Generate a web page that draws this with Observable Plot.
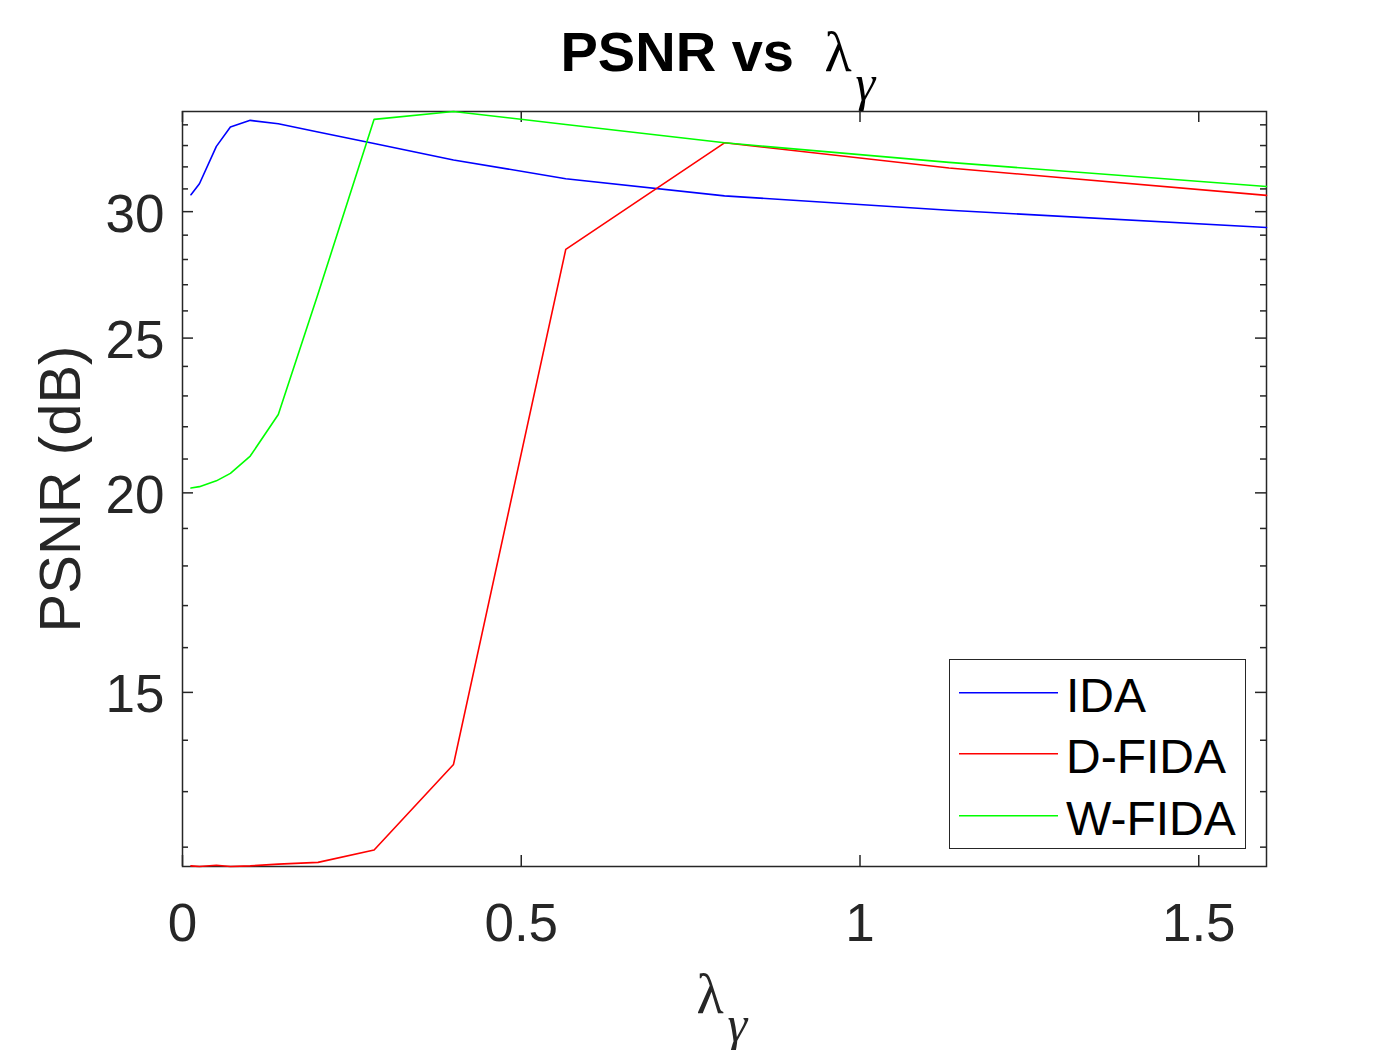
<!DOCTYPE html>
<html>
<head>
<meta charset="utf-8">
<script src="https://cdn.jsdelivr.net/npm/d3@7"></script>
<script src="https://cdn.jsdelivr.net/npm/@observablehq/plot@0.6"></script>
<style>
html, body { margin: 0; padding: 0; background: #fff; }
#wrap { position: relative; width: 1400px; height: 1050px; overflow: hidden; }
#wrap > svg { display: block; }
#legend { position: absolute; left: 949px; top: 659px; width: 295px; height: 188px;
  border: 1.5px solid #262626; background: #fff; font-family: "Liberation Sans", Arial, sans-serif; }
#legend .row { position: absolute; left: 0; width: 100%; height: 61.5px; }
#legend .sw { position: absolute; left: 8.5px; top: 20px; width: 100px; height: 20px; overflow: visible; }
#legend .lab { position: absolute; left: 116px; top: 3px; line-height: 61.5px; font-size: 48px; color: #000; white-space: nowrap; }
</style>
</head>
<body>
<div id="wrap"></div>
<script>
// ---- data ----
const lambda = [0.0125, 0.025, 0.05, 0.0707, 0.1, 0.1414, 0.2, 0.2828, 0.4, 0.5657, 0.8, 1.1314, 1.6];
const ida    = [30.74, 31.23, 32.96, 33.89, 34.22, 34.05, 33.65, 33.10, 32.32, 31.46, 30.69, 30.06, 29.32];
const dfida  = [11.68, 11.67, 11.69, 11.67, 11.68, 11.71, 11.74, 11.95, 13.52, 28.41, 33.13, 31.95, 30.71];
const wfida  = [20.14, 20.18, 20.35, 20.57, 21.09, 22.39, 26.64, 34.27, 34.66, 34.02, 33.13, 32.21, 31.11];
const seriesNames  = ["IDA", "D-FIDA", "W-FIDA"];
const seriesColors = ["#0000ff", "#ff0000", "#00ff00"];
const xTicks = [0, 0.5, 1, 1.5];
const yTicks = [15, 20, 25, 30];
const yMinorTicks = [12, 13, 14, 16, 17, 18, 19, 21, 22, 23, 24, 26, 27, 28, 29, 31, 32, 33, 34];
const xDomain = [0, 1.6];
const yDomain = [11.67, 34.66];

// ---- layout ----
const W = 1400, H = 1050, mL = 182, mR = 134, mT = 111, mB = 184;
const pw = W - mL - mR, ph = H - mT - mB;
const tickLen = 11, minorLen = 6;
const ink = "#262626";
const greek = "'Liberation Serif', 'DejaVu Serif', serif";

const seriesValues = [ida, dfida, wfida];
const rows = seriesNames.flatMap((name, i) =>
  lambda.map((x, j) => ({series: name, x, y: seriesValues[i][j]})));

const tickStyle = {stroke: ink, strokeWidth: 1.5};

const chart = Plot.plot({
  width: W, height: H,
  marginLeft: mL, marginRight: mR, marginTop: mT, marginBottom: mB,
  style: {fontFamily: "'Liberation Sans', Arial, sans-serif", background: "#fff", color: ink},
  x: {domain: xDomain, label: null},
  y: {type: "log", domain: yDomain, label: null},
  color: {domain: seriesNames, range: seriesColors},
  marks: [
    Plot.frame({stroke: ink, strokeWidth: 1.5}),
    Plot.ruleY(yTicks, {y: d => d, insetRight: pw - tickLen, ...tickStyle}),
    Plot.ruleY(yTicks, {y: d => d, insetLeft: pw - tickLen, ...tickStyle}),
    Plot.ruleY(yMinorTicks, {y: d => d, insetRight: pw - minorLen, ...tickStyle}),
    Plot.ruleY(yMinorTicks, {y: d => d, insetLeft: pw - minorLen, ...tickStyle}),
    Plot.ruleX(xTicks, {x: d => d, insetTop: ph - tickLen, ...tickStyle}),
    Plot.ruleX(xTicks, {x: d => d, insetBottom: ph - tickLen, ...tickStyle}),
    Plot.axisX({ticks: xTicks, tickSize: 0, tickPadding: 37, fontSize: 53, tickFormat: d => String(d), label: null, color: ink}),
    Plot.axisY({ticks: yTicks, tickSize: 0, tickPadding: 18, fontSize: 53, tickFormat: d => String(d), label: null, color: ink, dy: 3}),
    Plot.line(rows, {x: "x", y: "y", z: "series", stroke: "series", strokeWidth: 1.6}),
    // title
    Plot.text(["PSNR vs"], {text: d => d, frameAnchor: "top", textAnchor: "start", lineAnchor: "bottom",
      dx: -164, dy: -41, fontSize: 56, fontWeight: "bold", fill: "#000"}),
    Plot.text(["λ"], {text: d => d, frameAnchor: "top", textAnchor: "start", lineAnchor: "bottom",
      dx: 100, dy: -41, fontSize: 56, fontFamily: greek, fill: "#000"}),
    Plot.text(["γ"], {text: d => d, frameAnchor: "top", textAnchor: "start", lineAnchor: "bottom",
      dx: 131, dy: -12, fontSize: 50, fontStyle: "italic", fontFamily: greek, fill: "#000"}),
    // x label
    Plot.text(["λ"], {text: d => d, frameAnchor: "bottom", textAnchor: "start", lineAnchor: "bottom",
      dx: -28, dy: 146, fontSize: 56, fontFamily: greek, fill: ink}),
    Plot.text(["γ"], {text: d => d, frameAnchor: "bottom", textAnchor: "start", lineAnchor: "bottom",
      dx: 3, dy: 174, fontSize: 50, fontStyle: "italic", fontFamily: greek, fill: ink}),
    // y label
    Plot.text(["PSNR (dB)"], {text: d => d, frameAnchor: "left", rotate: -90, textAnchor: "middle", lineAnchor: "middle",
      dx: -121, fontSize: 58, fill: ink})
  ]
});

const wrap = document.getElementById("wrap");
wrap.appendChild(chart);

const legend = document.createElement("div");
legend.id = "legend";
seriesNames.forEach((name, i) => {
  const row = document.createElement("div");
  row.className = "row";
  row.style.top = (1.5 + i * 61.5) + "px";
  row.innerHTML =
    `<svg class="sw" width="100" height="20" viewBox="0 0 100 20">` +
    `<line x1="0" x2="99" y1="10.7" y2="10.7" stroke="${seriesColors[i]}" stroke-width="1.6"/></svg>` +
    `<span class="lab"></span>`;
  row.querySelector(".lab").textContent = name;
  legend.appendChild(row);
});
wrap.appendChild(legend);
</script>
</body>
</html>
